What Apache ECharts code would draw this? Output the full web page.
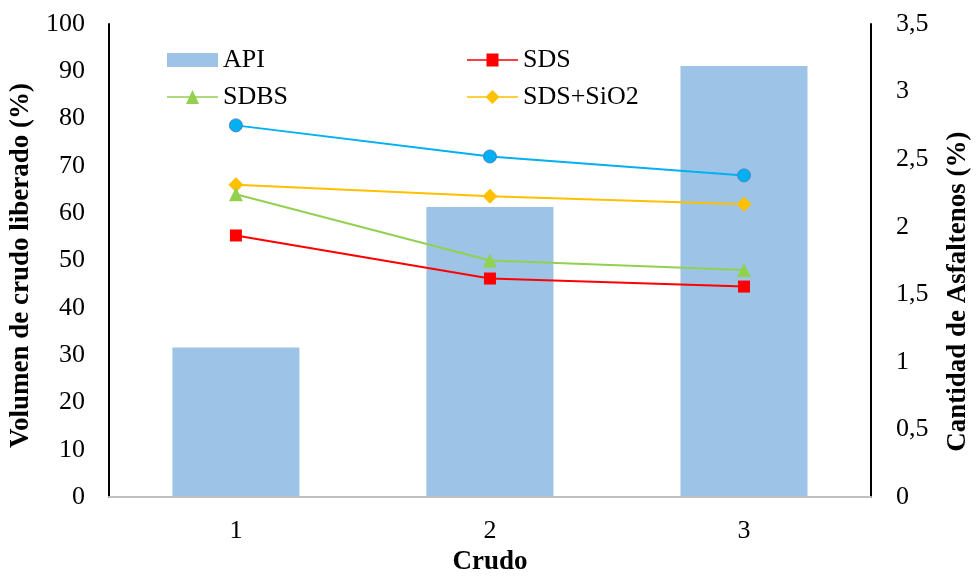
<!DOCTYPE html>
<html>
<head>
<meta charset="utf-8">
<script src="https://cdn.jsdelivr.net/npm/echarts@6/dist/echarts.min.js"></script>
<style>html,body{margin:0;padding:0;background:#fff}#c{width:980px;height:581px}</style>
</head>
<body>
<div id="c"></div>
<script>
const categories = ['1', '2', '3'];
const apiValues = [31.6, 61.3, 91.1];
const sdsValues = [55.3, 46.2, 44.5];
const sdbsValues = [64.0, 50.0, 48.0];
const sdsSiO2Values = [66.0, 63.6, 61.9];
const asfaltenosValues = [2.75, 2.52, 2.38];
const leftTicks = { min: 0, max: 100, interval: 10 };
const rightTicks = { min: 0, max: 3.5, interval: 0.5 };

const FONT = '"Liberation Serif", "Times New Roman", serif';
const chart = echarts.init(document.getElementById('c'), null, { renderer: 'canvas' });

const LINE = 'M0,6.25 H51 V7.75 H0 Z ';
const ICON_SDS = 'path://' + LINE + 'M19.5,0.5 H31.5 V13.5 H19.5 Z';
const ICON_SDBS = 'path://' + LINE + 'M19,14 L25.5,0 L32,14 Z';
const ICON_SIO2 = 'path://' + LINE + 'M25.5,0 L32.5,7 L25.5,14 L18.5,7 Z';

function lineSeries(name, data, color, symbol, size, yIdx, borderColor) {
  return {
    name: name, type: 'line', data: data, yAxisIndex: yIdx || 0,
    symbol: symbol, symbolSize: size,
    lineStyle: { color: color, width: 2 },
    itemStyle: { color: color, borderColor: borderColor || color, borderWidth: borderColor ? 1 : 0 },
    z: 3
  };
}

const legendText = { fontFamily: FONT, fontSize: 26, color: '#000', lineHeight: 26 };

chart.setOption({
  animation: false,
  backgroundColor: '#fff',
  textStyle: { fontFamily: FONT },
  grid: { left: 101, right: 100, top: 24, bottom: 73, containLabel: false },
  legend: [
    {
      data: [{ name: 'API', icon: 'rect' }, { name: 'SDBS', icon: ICON_SDBS }],
      orient: 'vertical', left: 162, top: 42,
      itemWidth: 51, itemHeight: 14, itemGap: 11,
      textStyle: legendText
    },
    {
      data: [{ name: 'SDS', icon: ICON_SDS }, { name: 'SDS+SiO2', icon: ICON_SIO2 }],
      orient: 'vertical', left: 462, top: 42,
      itemWidth: 51, itemHeight: 14, itemGap: 11,
      textStyle: legendText
    }
  ],
  xAxis: [
    {
      type: 'category', data: categories, position: 'bottom',
      name: 'Crudo', nameLocation: 'middle', nameGap: 47,
      nameTextStyle: { fontFamily: FONT, fontSize: 27, fontWeight: 'bold', color: '#000', lineHeight: 27 },
      axisLine: { show: true, lineStyle: { color: '#bfbfbf', width: 2 } },
      axisTick: { show: false },
      axisLabel: { fontFamily: FONT, fontSize: 26, color: '#000', margin: 21, lineHeight: 26 },
      splitLine: { show: false },
      z: 5
    },
    {
      type: 'category', data: categories, position: 'top',
      axisLine: { show: true, lineStyle: { color: '#000', width: 2 } },
      axisTick: { show: false }, axisLabel: { show: false }, splitLine: { show: false }
    }
  ],
  yAxis: [
    {
      type: 'value', position: 'left',
      min: leftTicks.min, max: leftTicks.max, interval: leftTicks.interval,
      name: 'Volumen de crudo liberado (%)', nameLocation: 'middle', nameGap: 61,
      nameTextStyle: { fontFamily: FONT, fontSize: 27, fontWeight: 'bold', color: '#000', lineHeight: 27, padding: [0, 10, 0, 0] },
      axisLine: { show: true, lineStyle: { color: '#000', width: 2 } },
      axisTick: { show: false },
      axisLabel: { fontFamily: FONT, fontSize: 26, color: '#000', margin: 24 },
      splitLine: { show: false }
    },
    {
      type: 'value', position: 'right',
      min: rightTicks.min, max: rightTicks.max, interval: rightTicks.interval,
      name: 'Cantidad de Asfaltenos (%)', nameLocation: 'middle', nameGap: 74,
      nameTextStyle: { fontFamily: FONT, fontSize: 27, fontWeight: 'bold', color: '#000', lineHeight: 27, padding: [0, 62, 0, 0] },
      axisLine: { show: true, lineStyle: { color: '#000', width: 2 } },
      axisTick: { show: false },
      axisLabel: { fontFamily: FONT, fontSize: 26, color: '#000', margin: 25,
        formatter: v => String(v).replace('.', ',') },
      splitLine: { show: false }
    }
  ],
  series: [
    { name: 'API', type: 'bar', data: apiValues, barWidth: '50%', itemStyle: { color: '#9dc3e6' }, z: 1 },
    lineSeries('Asfaltenos', asfaltenosValues, '#00b0f0', 'circle', 13, 1, '#4a86c8'),
    lineSeries('SDS+SiO2', sdsSiO2Values, '#ffc000', 'diamond', 15),
    lineSeries('SDBS', sdbsValues, '#92d050', 'triangle', 14),
    lineSeries('SDS', sdsValues, '#ff0000', 'rect', 12)
  ]
});
</script>
</body>
</html>
